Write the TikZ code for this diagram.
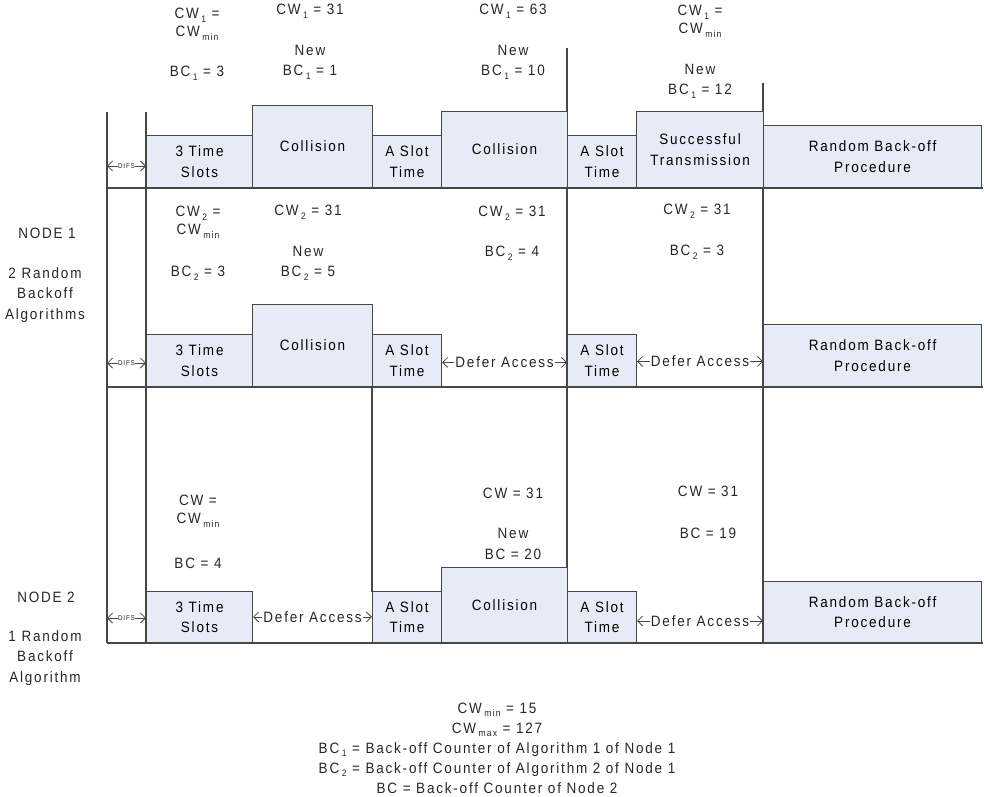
\documentclass[tikz,border=0pt]{standalone}
\usepackage{fontspec}
\setmainfont{Liberation Sans}[LetterSpace=12,FakeStretch=0.9]
\usetikzlibrary{arrows.meta}
% lowered small index, as in CW_min or BC_1
\newcommand{\lowsub}[1]{\,\raisebox{-0.45ex}{\fontsize{9.5}{10}\selectfont #1}}
\begin{document}
\begin{tikzpicture}[x=1pt,y=-1pt,
  line width=1.1pt,
  lc/.style={draw=black!72},
  blk/.style={lc, fill=boxfill, inner sep=0pt, align=center, anchor=south west},
  txt/.style={align=center, inner sep=0pt, text=black!85},
  dbl/.style={lc, {Straight Barb[length=5pt,width=10pt]}-{Straight Barb[length=5pt,width=10pt]}, line width=0.8pt},
  lbl/.style={fill=white, inner sep=1pt, text=black!85},
  font=\fontsize{15}{20.5}\selectfont]
\definecolor{boxfill}{HTML}{E6ECF6}
\useasboundingbox (0,0) rectangle (985,797);

% slot boxes: name, left, right, top, bottom, text
\newcommand{\blkbox}[6]{\node[blk, minimum width={#3-#2}, minimum height={#5-#4}] (#1) at (#2,#5) {#6};}

% time-line frame
\draw[lc] (107,112) -- (107,643);
\draw[lc] (146,112) -- (146,643);
\draw[lc] (567,48) -- (567,643);
\draw[lc] (763,83) -- (763,643);
\draw[lc] (372,387) -- (372,592);
\draw[lc] (107,188) -- (983,188);
\draw[lc] (107,387) -- (983,387);
\draw[lc] (107,643) -- (983,643);

% algorithm 1 of node 1
\blkbox{a1}{146}{252}{136}{188}{3 Time\\Slots}
\blkbox{a2}{252}{372}{106}{188}{Collision}
\blkbox{a3}{372}{441}{136}{188}{A Slot\\Time}
\blkbox{a4}{441}{567}{112}{188}{Collision}
\blkbox{a5}{567}{636}{136}{188}{A Slot\\Time}
\blkbox{a6}{636}{763}{112}{188}{Successful\\Transmission}
\blkbox{a7}{763}{981}{126}{188}{Random Back-off\\Procedure}

% algorithm 2 of node 1
\blkbox{b1}{146}{252}{335}{387}{3 Time\\Slots}
\blkbox{b2}{252}{372}{305}{387}{Collision}
\blkbox{b3}{372}{441}{335}{387}{A Slot\\Time}
\blkbox{b5}{567}{636}{335}{387}{A Slot\\Time}
\blkbox{b7}{763}{981}{325}{387}{Random Back-off\\Procedure}

% node 2
\blkbox{c1}{146}{252}{592}{643}{3 Time\\Slots}
\blkbox{c3}{372}{441}{592}{643}{A Slot\\Time}
\blkbox{c4}{441}{567}{568}{643}{Collision}
\blkbox{c5}{567}{636}{592}{643}{A Slot\\Time}
\blkbox{c7}{763}{981}{582}{643}{Random Back-off\\Procedure}

% DIFS intervals
\coordinate (d1l) at (107,166); \coordinate (d1r) at (146,166);
\coordinate (d2l) at (107,363); \coordinate (d2r) at (146,363);
\coordinate (d3l) at (107,618); \coordinate (d3r) at (146,618);
\foreach \r in {1,2,3}{
  \draw[dbl] (d\r l) -- (d\r r) node[midway, lbl, inner sep=0.5pt, font=\fontsize{7}{7}\selectfont] {DIFS};
}

% deferred access
\draw[dbl] (b3.east) ++(0,2) coordinate (e1l) -- (e1l -| b5.west) node[midway, lbl] {Defer Access};
\draw[dbl] (b5.east) ++(0,1) coordinate (e2l) -- (e2l -| b7.west) node[midway, lbl] {Defer Access};
\draw[dbl] (c1.east) -- (c3.west) node[midway, lbl] {Defer Access};
\draw[dbl] (c5.east) ++(0,4) coordinate (e3l) -- (e3l -| c7.west) node[midway, lbl] {Defer Access};

% counters of algorithm 1
\node[txt] (t11) at (197,24) {CW\lowsub{1} =\\[-2.5pt]CW\lowsub{min}};
\node[txt] (t12) at (197,73) {BC\lowsub{1} = 3};
\node[txt] (t13) at (310,11) {CW\lowsub{1} = 31};
\node[txt] (t14) at (310,62) {New\\BC\lowsub{1} = 1};
\node[txt] (t15) at (513,11) {CW\lowsub{1} = 63};
\node[txt] (t16) at (513,62) {New\\BC\lowsub{1} = 10};
\node[txt] (t17) at (700,21) {CW\lowsub{1} =\\[-2.5pt]CW\lowsub{min}};
\node[txt] (t18) at (700,81) {New\\BC\lowsub{1} = 12};

% counters of algorithm 2
\node[txt] (t21) at (198,222) {CW\lowsub{2} =\\[-2.5pt]CW\lowsub{min}};
\node[txt] (t22) at (198,273) {BC\lowsub{2} = 3};
\node[txt] (t23) at (308,212) {CW\lowsub{2} = 31};
\node[txt] (t24) at (308,263) {New\\BC\lowsub{2} = 5};
\node[txt] (t25) at (512,213) {CW\lowsub{2} = 31};
\node[txt] (t26) at (512,253) {BC\lowsub{2} = 4};
\node[txt] (t27) at (697,211) {CW\lowsub{2} = 31};
\node[txt] (t28) at (697,252) {BC\lowsub{2} = 3};

% counters of node 2
\node[txt] (t31) at (198,511) {CW =\\[-2.5pt]CW\lowsub{min}};
\node[txt] (t32) at (198,563) {BC = 4};
\node[txt] (t33) at (513,493) {CW = 31};
\node[txt] (t34) at (513,544) {New\\BC = 20};
\node[txt] (t35) at (708,491) {CW = 31};
\node[txt] (t36) at (708,533) {BC = 19};

% station labels
\node[txt] (n1) at (47,233) {NODE 1};
\node[txt] (n1d) at (45,295) {2 Random\\Backoff\\Algorithms};
\node[txt] (n2) at (46,597) {NODE 2};
\node[txt] (n2d) at (45,658) {1 Random\\Backoff\\Algorithm};

% legend
\node[txt, font=\fontsize{15}{20}\selectfont] (leg) at (497,748) {CW\lowsub{min} = 15\\
CW\lowsub{max} = 127\\
BC\lowsub{1} = Back-off Counter of Algorithm 1 of Node 1\\
BC\lowsub{2} = Back-off Counter of Algorithm 2 of Node 1\\
BC = Back-off Counter of Node 2};
\end{tikzpicture}
\end{document}
